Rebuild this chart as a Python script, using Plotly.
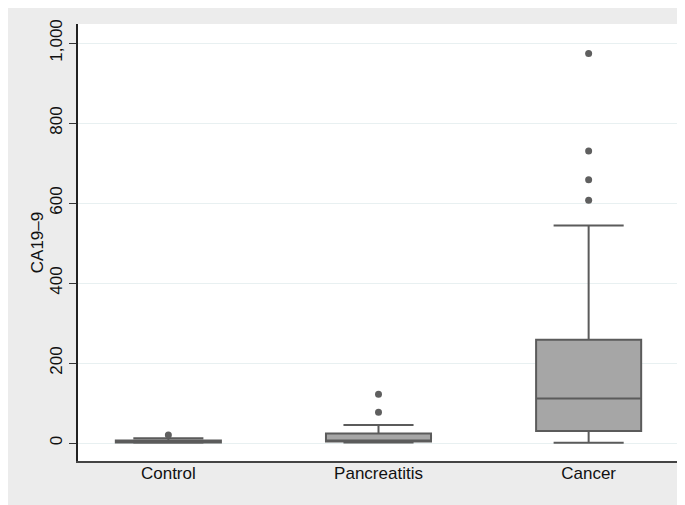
import plotly.graph_objects as go

categories = ["Control", "Pancreatitis", "Cancer"]
q1 = [1, 4, 30]
median = [4, 6, 111]
q3 = [6, 24, 258]
lowerfence = [0.5, 1, 0.5]
upperfence = [12, 45, 544]
outlier_x = ["Control", "Pancreatitis", "Pancreatitis", "Cancer", "Cancer", "Cancer", "Cancer"]
outlier_y = [20, 77, 122, 607, 658, 730, 974]
y_ticks = [0, 200, 400, 600, 800, 1000]
y_ticklabels = ["0", "200", "400", "600", "800", "1,000"]

FONT = "Liberation Sans, Arial, sans-serif"
LINE = "#5b5b5b"

fig = go.Figure()
fig.add_trace(go.Box(
    x=categories, q1=q1, median=median, q3=q3,
    lowerfence=lowerfence, upperfence=upperfence,
    boxpoints=False, width=0.5, whiskerwidth=0.667,
    fillcolor="#a6a6a6", line=dict(color=LINE, width=2),
    showlegend=False, hoverinfo="skip",
))
fig.add_trace(go.Scatter(
    x=outlier_x, y=outlier_y, mode="markers",
    marker=dict(color="#5f5f5f", size=7, line=dict(width=0)),
    showlegend=False, hoverinfo="skip",
))

# page body has an 8px margin, so the figure starts at (8, 8)
W, H = 677, 497
L, R, T, B = 70, 6, 16, 44

fig.update_layout(
    width=W, height=H,
    margin=dict(l=L, r=R, t=T, b=B, pad=0),
    paper_bgcolor="#ececec", plot_bgcolor="white",
    font=dict(family=FONT, size=17, color="#111111"),
    xaxis=dict(
        type="category", categoryorder="array", categoryarray=categories,
        range=[-0.43, 2.43], showgrid=False, zeroline=False,
        showline=True, linecolor="#444444", linewidth=1.5,
        ticks="", ticklabelstandoff=-4,
        tickfont=dict(family=FONT, size=17, color="#111111"),
    ),
    yaxis=dict(
        range=[-45, 1047.5], tickvals=y_ticks, ticktext=y_ticklabels,
        tickangle=-90, ticks="outside", ticklen=7, tickcolor="#333333",
        showline=True, linecolor="#222222", linewidth=1.5,
        showgrid=True, gridcolor="#e8f0f1", gridwidth=1, zeroline=False,
        ticklabelstandoff=0,
        tickfont=dict(family=FONT, size=17, color="#111111"),
        title=dict(text="CA19–9", standoff=0,
                   font=dict(family=FONT, size=17, color="#111111")),
    ),
)

fig.write_html("out.html")
